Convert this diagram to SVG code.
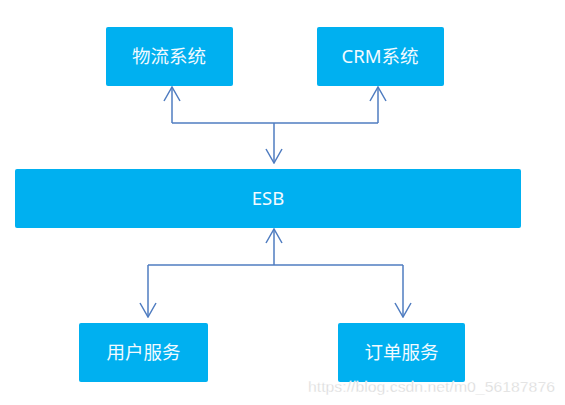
<svg xmlns="http://www.w3.org/2000/svg" width="565" height="405" viewBox="0 0 565 405">
<defs>
<style>
.box{fill:#00B0F0;}
.lbl{fill:#F2FAFF;font-family:"Noto Sans","Noto Sans CJK SC",sans-serif;font-size:18.5px;text-anchor:middle;}
.ln{fill:none;stroke:#4F7CC0;stroke-width:1.5;}
.wm{fill:#D9D9D9;stroke:#FFFFFF;stroke-width:0.3;font-family:"Liberation Sans",Arial,sans-serif;font-size:14.6px;}
</style>
<marker id="ah" viewBox="-16 -9 17 18" refX="0" refY="0" markerWidth="17" markerHeight="18" markerUnits="userSpaceOnUse" orient="auto">
<path d="M-14,-8 L0,0 L-14,8" fill="none" stroke="#4F7CC0" stroke-width="1.5"/>
</marker>
</defs>
<rect width="565" height="405" fill="#FFFFFF"/>
<g id="connectors">
<path class="ln" d="M172,123 H378" />
<path class="ln" d="M172,123 V87" marker-end="url(#ah)"/>
<path class="ln" d="M378,123 V87" marker-end="url(#ah)"/>
<path class="ln" d="M274,123 V163" marker-end="url(#ah)"/>
<path class="ln" d="M148,265 H403" />
<path class="ln" d="M274,265 V229" marker-end="url(#ah)"/>
<path class="ln" d="M148,265 V317" marker-end="url(#ah)"/>
<path class="ln" d="M403,265 V317" marker-end="url(#ah)"/>
</g>
<g id="wuliu">
<rect class="box" x="106" y="27" width="127" height="59" rx="2"/>
<text class="lbl" x="169" y="62.5">物流系统</text>
</g>
<g id="crm">
<rect class="box" x="317" y="27" width="127" height="59" rx="2"/>
<text class="lbl" x="380" y="62.5">CRM系统</text>
</g>
<g id="esb">
<rect class="box" x="15" y="169" width="506" height="59" rx="2"/>
<text class="lbl" x="268" y="205">ESB</text>
</g>
<g id="user">
<rect class="box" x="79" y="323" width="129" height="59" rx="2"/>
<text class="lbl" x="143.5" y="359">用户服务</text>
</g>
<g id="order">
<rect class="box" x="338" y="323" width="127" height="59" rx="2"/>
<text class="lbl" x="401.5" y="359">订单服务</text>
</g>
<text class="wm" x="308" y="392" textLength="247" lengthAdjust="spacingAndGlyphs">https://blog.csdn.net/m0_56187876</text>
</svg>
